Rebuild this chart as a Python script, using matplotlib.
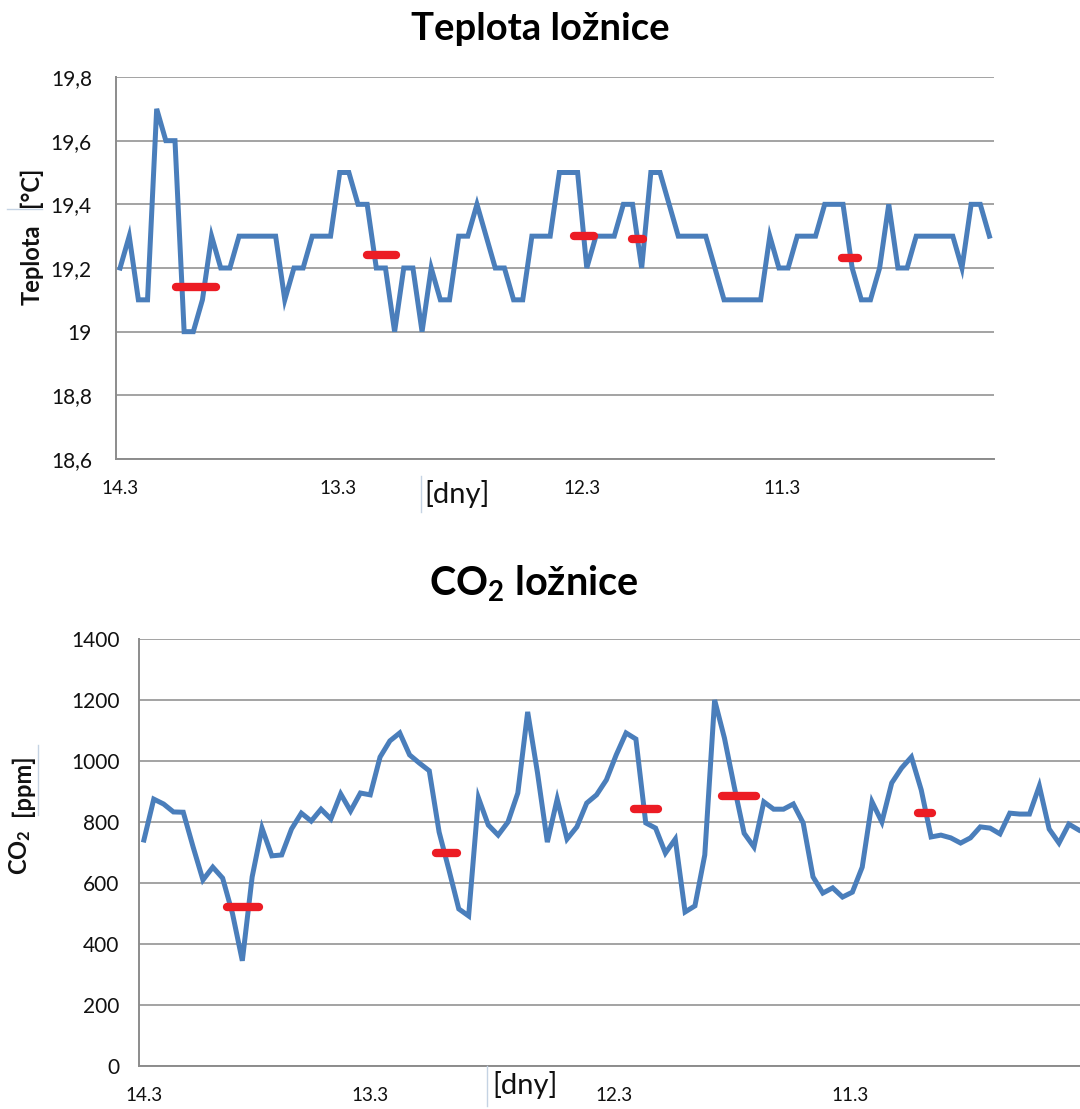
import matplotlib
matplotlib.use("Agg")
import matplotlib.pyplot as plt
from matplotlib.lines import Line2D
from matplotlib.ticker import FuncFormatter

plt.rcParams['font.family'] = ['Lato', 'DejaVu Sans']
plt.rcParams['mathtext.fontset'] = 'custom'
plt.rcParams['mathtext.rm'] = 'Lato:bold'
plt.rcParams['mathtext.bf'] = 'Lato:bold'
plt.rcParams['mathtext.default'] = 'rm'

# ---------------- data ----------------
temp_values = [19.2, 19.3, 19.1, 19.1, 19.7, 19.6, 19.6, 19.0, 19.0, 19.1,
               19.3, 19.2, 19.2, 19.3, 19.3, 19.3, 19.3, 19.3, 19.1, 19.2,
               19.2, 19.3, 19.3, 19.3, 19.5, 19.5, 19.4, 19.4, 19.2, 19.2,
               19.0, 19.2, 19.2, 19.0, 19.2, 19.1, 19.1, 19.3, 19.3, 19.4,
               19.3, 19.2, 19.2, 19.1, 19.1, 19.3, 19.3, 19.3, 19.5, 19.5,
               19.5, 19.2, 19.3, 19.3, 19.3, 19.4, 19.4, 19.2, 19.5, 19.5,
               19.4, 19.3, 19.3, 19.3, 19.3, 19.2, 19.1, 19.1, 19.1, 19.1,
               19.1, 19.3, 19.2, 19.2, 19.3, 19.3, 19.3, 19.4, 19.4, 19.4,
               19.2, 19.1, 19.1, 19.2, 19.4, 19.2, 19.2, 19.3, 19.3, 19.3,
               19.3, 19.3, 19.2, 19.4, 19.4, 19.3]

co2_values = [741, 875, 859, 833, 832, 718, 610, 652, 616, 500,
              345, 620, 780, 689, 692, 777, 829, 803, 842, 810,
              892, 836, 895, 889, 1013, 1066, 1092, 1020, 993, 968,
              767, 643, 515, 492, 879, 790, 757, 800, 895, 1161,
              961, 734, 875, 744, 784, 862, 889, 938, 1020, 1092,
              1072, 797, 780, 698, 744, 505, 525, 692, 1200, 1075,
              915, 763, 718, 866, 842, 842, 859, 797, 620, 567,
              584, 554, 570, 652, 866, 800, 928, 977, 1013, 905,
              751, 757, 748, 731, 748, 784, 780, 761, 829, 826,
              826, 918, 777, 731, 793, 774]

# night averages (red bars): start index, end index, value
temp_avg_start = [6.1, 27.0, 49.6, 55.9, 78.9]
temp_avg_end = [10.5, 30.2, 51.8, 57.1, 80.6]
temp_avg_value = [19.14, 19.24, 19.30, 19.29, 19.23]

co2_avg_start = [8.4, 29.7, 49.8, 58.8, 78.7]
co2_avg_end = [11.7, 31.8, 52.2, 62.2, 80.1]
co2_avg_value = [520, 700, 843, 885, 830]

day_labels = ['14.3', '13.3', '12.3', '11.3']
temp_day_idx = [0, 23.8, 50.5, 72.3]
co2_day_idx = [0, 23.0, 47.8, 71.8]

temp_yticks = [18.6, 18.8, 19.0, 19.2, 19.4, 19.6, 19.8]
co2_yticks = [0, 200, 400, 600, 800, 1000, 1200, 1400]

# ---------------- style ----------------
BLUE = '#4a7ebb'
RED = '#ec1c24'
GRID = '#a3a3a3'
TXT = '#111111'
W, H = 1080, 1109

fig = plt.figure(figsize=(W / 100, H / 100), dpi=100)


def fx(x):
    return x / W


def fy(y):
    return 1 - y / H


def make_axes(left, right, top, bottom):
    return fig.add_axes([fx(left), fy(bottom), fx(right) - fx(left), (bottom - top) / H])


def style_axes(ax, yticks, fmt, ypad):
    ax.set_ylim(yticks[0], yticks[-1])
    ax.set_yticks(yticks)
    ax.yaxis.set_major_formatter(FuncFormatter(fmt))
    ax.grid(axis='y', color=GRID, lw=1.4)
    ax.set_axisbelow(True)
    for s in ['top', 'right']:
        ax.spines[s].set_visible(False)
    for s in ['left', 'bottom']:
        ax.spines[s].set_color('#8c8c8c')
        ax.spines[s].set_linewidth(1.4)
    ax.tick_params(axis='both', length=0, labelcolor=TXT)
    ax.tick_params(axis='y', pad=ypad, labelsize=15)
    ax.tick_params(axis='x', pad=15, labelsize=13.5)
    ax.set_xlim(-0.5, len(temp_values) - 0.5)


# ---------------- top chart ----------------
ax1 = make_axes(115.5, 994, 77, 459)
x1 = list(range(len(temp_values)))
ax1.plot(x1, temp_values, color=BLUE, lw=3.6, solid_joinstyle='miter')
for s, e, v in zip(temp_avg_start, temp_avg_end, temp_avg_value):
    ax1.plot([s, e], [v, v], color=RED, lw=6.0, solid_capstyle='round')
style_axes(ax1, temp_yticks, lambda v, p: ('%g' % v).replace('.', ','), 17)
ax1.set_xticks(temp_day_idx)
ax1.set_xticklabels(day_labels)

fig.text(0.5, fy(29), 'Teplota ložnice', ha='center', va='center',
         fontsize=27.5, fontweight='bold', color='black')
fig.text(fx(32), fy(265), 'Teplota', rotation=90, ha='center', va='center',
         fontsize=17, fontweight='bold', color=TXT)
fig.text(fx(30), fy(187), '[°C]', rotation=90, ha='center', va='center',
         fontsize=17, fontweight='bold', color=TXT)
fig.text(fx(457), fy(494), '[dny]', ha='center', va='center', fontsize=21, color=TXT)
fig.add_artist(Line2D([fx(7), fx(42)], [fy(209), fy(209)], color='#c5d3e3', lw=1))
fig.add_artist(Line2D([fx(421), fx(421)], [fy(476), fy(512)], color='#c5d3e3', lw=1))

# ---------------- bottom chart ----------------
ax2 = make_axes(139, 1083.6, 639, 1066)
x2 = list(range(len(co2_values)))
ax2.plot(x2, co2_values, color=BLUE, lw=3.6, solid_joinstyle='miter')
for s, e, v in zip(co2_avg_start, co2_avg_end, co2_avg_value):
    ax2.plot([s, e], [v, v], color=RED, lw=6.0, solid_capstyle='round')
style_axes(ax2, co2_yticks, lambda v, p: '%d' % v, 14)
ax2.set_xticks(co2_day_idx)
ax2.set_xticklabels(day_labels)

fig.text(fx(534), fy(584), 'CO$_2$ ložnice', ha='center', va='center',
         fontsize=28.5, fontweight='bold', color='black')
fig.text(fx(20), fy(852), 'CO$_2$', rotation=90, ha='center', va='center',
         fontsize=17, fontweight='bold', color=TXT)
fig.text(fx(22), fy(785), '[ppm]', rotation=90, ha='center', va='center',
         fontsize=17, fontweight='bold', color=TXT)
fig.text(fx(525), fy(1085), '[dny]', ha='center', va='center', fontsize=21, color=TXT)
fig.add_artist(Line2D([fx(38), fx(38)], [fy(745), fy(815)], color='#c5d3e3', lw=1))
fig.add_artist(Line2D([fx(487), fx(487)], [fy(1066), fy(1106)], color='#c5d3e3', lw=1))

fig.savefig('out.png', dpi=100)
